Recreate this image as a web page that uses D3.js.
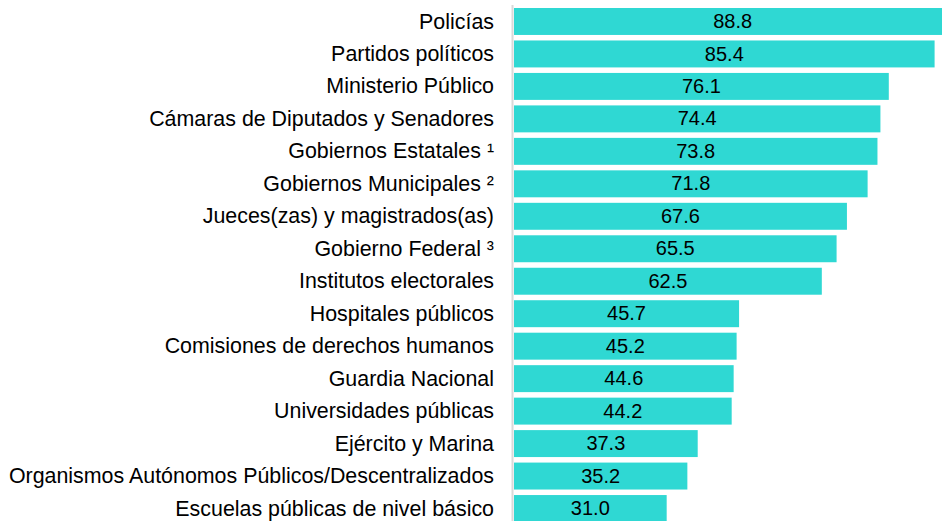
<!DOCTYPE html>
<html>
<head>
<meta charset="utf-8">
<script src="https://cdn.jsdelivr.net/npm/d3@7"></script>
<style>
  body { margin: 0; background: #ffffff; }
  #chart { width: 942px; height: 521px; overflow: hidden; }
  text { font-family: "Liberation Sans", Arial, sans-serif; fill: #000; }
</style>
</head>
<body>
<div id="chart"></div>
<script>
var categories = [
  "Policías",
  "Partidos políticos",
  "Ministerio Público",
  "Cámaras de Diputados y Senadores",
  "Gobiernos Estatales ¹",
  "Gobiernos Municipales ²",
  "Jueces(zas) y magistrados(as)",
  "Gobierno Federal ³",
  "Institutos electorales",
  "Hospitales públicos",
  "Comisiones de derechos humanos",
  "Guardia Nacional",
  "Universidades públicas",
  "Ejército y Marina",
  "Organismos Autónomos Públicos/Descentralizados",
  "Escuelas públicas de nivel básico"
];
var values = [88.8, 85.4, 76.1, 74.4, 73.8, 71.8, 67.6, 65.5, 62.5, 45.7, 45.2, 44.6, 44.2, 37.3, 35.2, 31.0];

var data = categories.map((c, i) => ({name: c, value: values[i]}));

var width = 942, height = 521;
var x0 = 514;

var svg = d3.select("#chart").append("svg")
  .attr("width", width)
  .attr("height", height);

var xScale = d3.scaleLinear()
  .domain([0, 100])
  .range([x0, x0 + 492.5]);

var yScale = d3.scaleBand()
  .domain(categories)
  .range([5.24, 524.76])
  .paddingInner(0.17)
  .paddingOuter(0.085);

svg.selectAll(".bar")
  .data(data)
  .enter()
  .append("rect")
  .attr("class", "bar")
  .attr("x", xScale(0))
  .attr("y", d => yScale(d.name))
  .attr("width", d => xScale(d.value) - xScale(0))
  .attr("height", yScale.bandwidth())
  .attr("fill", "#2fd8d3");

// category labels
svg.selectAll(".label")
  .data(data)
  .enter()
  .append("text")
  .attr("class", "label")
  .attr("x", 494)
  .attr("y", d => yScale(d.name) + yScale.bandwidth() / 2)
  .attr("dy", "0.33em")
  .attr("text-anchor", "end")
  .style("font-size", "21.4px")
  .text(d => d.name);

// value labels centred in bars
svg.selectAll(".value")
  .data(data)
  .enter()
  .append("text")
  .attr("class", "value")
  .attr("x", d => (xScale(0) + xScale(d.value)) / 2)
  .attr("y", d => yScale(d.name) + yScale.bandwidth() / 2)
  .attr("dy", "0.33em")
  .attr("text-anchor", "middle")
  .style("font-size", "20px")
  .text(d => d3.format(".1f")(d.value));

// vertical axis line
svg.append("line")
  .attr("x1", 512.5)
  .attr("x2", 512.5)
  .attr("y1", 5)
  .attr("y2", height)
  .attr("stroke", "#d9d9d9")
  .attr("stroke-width", 2);
</script>
</body>
</html>
